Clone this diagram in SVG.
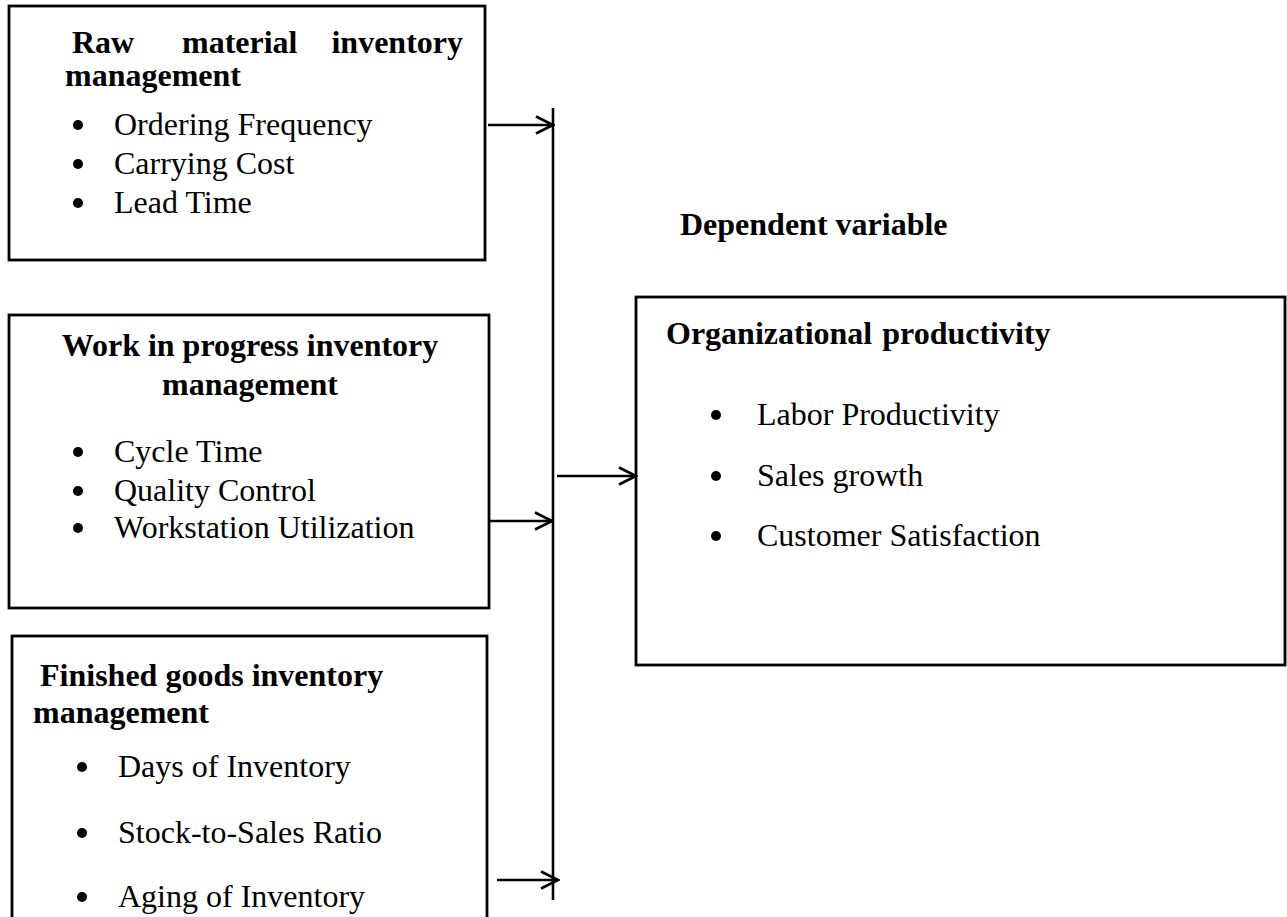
<svg xmlns="http://www.w3.org/2000/svg" width="1287" height="917" viewBox="0 0 1287 917">
  <defs>
    <style>
      .box { fill: #fff; stroke: #000; stroke-width: 2.8; }
      .title { font-family: "Liberation Serif", "Times New Roman", serif; font-weight: bold; font-size: 32px; fill: #000; }
      .item { font-family: "Liberation Serif", "Times New Roman", serif; font-size: 32px; fill: #000; }
      .dot { fill: #000; }
      .wire { fill: none; stroke: #000; stroke-width: 2.6; }
    </style>
    <marker id="chevron" viewBox="0 0 20 20" refX="18" refY="10" markerWidth="20" markerHeight="20" markerUnits="userSpaceOnUse" orient="auto">
      <path d="M1,1.5 L18,10 L1,18.5" fill="none" stroke="#000" stroke-width="2.6"/>
    </marker>
  </defs>

  <rect width="1287" height="917" fill="#fff"/>

  <!-- Independent variable: raw material -->
  <g id="raw-material">
    <rect class="box" x="9" y="6" width="476" height="254"/>
    <text class="title" y="53"><tspan x="72">Raw</tspan><tspan x="182">material</tspan><tspan x="463" text-anchor="end">inventory</tspan></text>
    <text class="title" x="65" y="86">management</text>
    <circle class="dot" cx="78" cy="125" r="5"/>
    <text class="item" x="114" y="135">Ordering Frequency</text>
    <circle class="dot" cx="78" cy="164" r="5"/>
    <text class="item" x="114" y="174">Carrying Cost</text>
    <circle class="dot" cx="78" cy="203" r="5"/>
    <text class="item" x="114" y="213">Lead Time</text>
  </g>

  <!-- Independent variable: work in progress -->
  <g id="work-in-progress">
    <rect class="box" x="9" y="315" width="480" height="293"/>
    <text class="title" x="250" y="356" text-anchor="middle">Work in progress inventory</text>
    <text class="title" x="250" y="395" text-anchor="middle">management</text>
    <circle class="dot" cx="78" cy="452" r="5"/>
    <text class="item" x="114" y="462">Cycle Time</text>
    <circle class="dot" cx="78" cy="491" r="5"/>
    <text class="item" x="114" y="501">Quality Control</text>
    <circle class="dot" cx="78" cy="528" r="5"/>
    <text class="item" x="114" y="538">Workstation Utilization</text>
  </g>

  <!-- Independent variable: finished goods -->
  <g id="finished-goods">
    <rect class="box" x="12" y="636" width="475" height="300"/>
    <text class="title" x="40" y="686">Finished goods inventory</text>
    <text class="title" x="33" y="723">management</text>
    <circle class="dot" cx="82" cy="767" r="5"/>
    <text class="item" x="118" y="777">Days of Inventory</text>
    <circle class="dot" cx="82" cy="833" r="5"/>
    <text class="item" x="118" y="843">Stock-to-Sales Ratio</text>
    <circle class="dot" cx="82" cy="897" r="5"/>
    <text class="item" x="118" y="907">Aging of Inventory</text>
  </g>

  <!-- Dependent variable -->
  <g id="dependent-label">
    <text class="title" x="680" y="235">Dependent variable</text>
  </g>

  <g id="organizational-productivity">
    <rect class="box" x="636" y="297" width="649" height="368"/>
    <text class="title" x="666" y="344" word-spacing="2">Organizational productivity</text>
    <circle class="dot" cx="716" cy="415" r="5"/>
    <text class="item" x="757" y="425">Labor Productivity</text>
    <circle class="dot" cx="716" cy="476" r="5"/>
    <text class="item" x="757" y="486">Sales growth</text>
    <circle class="dot" cx="716" cy="536" r="5"/>
    <text class="item" x="757" y="546">Customer Satisfaction</text>
  </g>

  <!-- Connectors -->
  <g id="connectors">
    <line class="wire" x1="553" y1="108" x2="553" y2="900"/>
    <line class="wire" x1="488" y1="125" x2="553" y2="125" marker-end="url(#chevron)"/>
    <line class="wire" x1="489" y1="521" x2="552" y2="521" marker-end="url(#chevron)"/>
    <line class="wire" x1="497" y1="880" x2="558" y2="880" marker-end="url(#chevron)"/>
    <line class="wire" x1="557" y1="476" x2="636" y2="476" marker-end="url(#chevron)"/>
  </g>
</svg>
